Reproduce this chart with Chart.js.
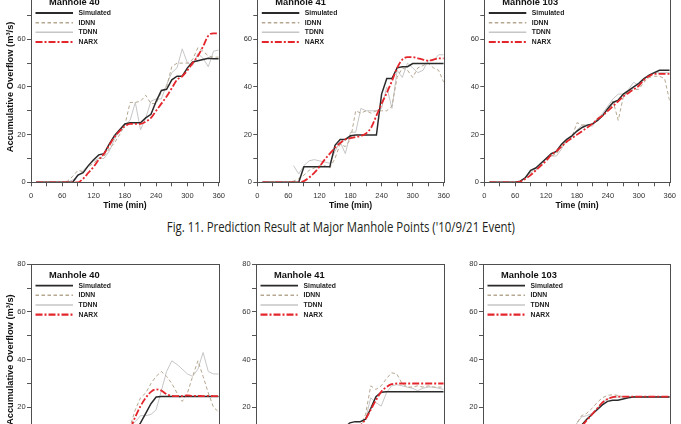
<!DOCTYPE html>
<html><head><meta charset="utf-8">
<script src="https://cdn.jsdelivr.net/npm/chart.js@4/dist/chart.umd.min.js"></script>
<style>
html,body{margin:0;padding:0;background:#fff;overflow:hidden;width:681px;height:424px;position:relative}
canvas{position:absolute}
#cap{position:absolute;left:0;top:220px;width:681px;text-align:center;font-family:"Liberation Sans Narrow","Arial Narrow","Open Sans",sans-serif;font-size:14px;line-height:14px;color:#231f20;white-space:nowrap}
#cap span{display:inline-block;transform-origin:50% 50%}
</style></head><body>
<canvas id="p1"></canvas><canvas id="p2"></canvas><canvas id="p3"></canvas>
<canvas id="p4"></canvas><canvas id="p5"></canvas><canvas id="p6"></canvas>
<div id="cap"><span>Fig. 11. Prediction Result at Major Manhole Points ('10/9/21 Event)</span></div>
<script>
// ---------- DATA ----------
const times = [10,20,30,40,50,60,70,80,90,100,110,120,130,140,150,160,170,180,190,200,210,220,230,240,250,260,270,280,290,300,310,320,330,340,350,360];
const xTickLabels = [0,60,120,180,240,300,360];
const yTickLabels = [0,20,40,60,80];
const seriesNames = ['Simulated','IDNN','TDNN','NARX'];
const panelTitles = ['Manhole 40','Manhole 41','Manhole 103'];

// Event 1 ('10/9/21) - top row
const e1M40Sim  = [0,0,0,0,0,0,0,0,3,4,7,9.5,11.5,12,16,19.5,22,24.5,25,25,25,27,28.5,34,38.5,39,43,44.5,44.5,48,50.5,51,51.5,52,51.8,51.8];
const e1M40Idnn = [0,0,0,0,0,0,0.5,2.5,5,4.5,6.5,8,10,11,14,16.5,20,24,33.5,33.5,34,36.5,33,33,38,40,48.5,50,50,50,51.5,56.5,55,53,52.5,52.5];
const e1M40Tdnn = [0,0,0,0,0,0,0,1,2.5,5,7,9,10,10,13,18,22,24,26,33.5,22,27,34,35,35,41,46,48,56,50,49,54,52,48.5,55,55.5];
const e1M40Narx = [0,0,0,0,0,0,0,0,0,1.5,4,6.5,9.5,12,15.5,19,21.5,23.5,24.5,24.5,24.5,25.5,27,30,33,36,39.5,43,44.5,47,50,53,57,61.5,62.5,62.5];

const e1M41Sim  = [0,0,0,0,0,0,0,0,6.5,6.5,6.5,6.5,6.5,6.5,15.5,18,18,19.5,19.8,19.8,19.8,19.8,19.8,37,43.5,43.5,48,48.5,48.5,49.8,49.8,49.8,49.8,49.8,49.8,49.8];
const e1M41Idnn = [0,0,0,0,0,0,0.5,1.5,3,5,6,7,7,6,10,16,15,18,30,29,30,29,30,30,30,32,44,48,47,44,48,49,50,48,47,42];
const e1M41Tdnn = [null,null,null,null,null,null,7,3.5,7,9,9.5,9,8.5,8,13,17,12,21,21,31,30,30,30,31,40,31,47,44,50,48,46,47,51,51,53.5,53.5];
const e1M41Narx = [0,0,0,0,0,0,0,0,0.5,2,4,6.5,9.5,12,14.5,16.5,18,18.5,19,19.5,20.5,23,28,33,37.5,42.5,48,51.5,52.5,52.5,52,51.5,51,51.5,52,52];

const e1M103Sim  = [0,0,0,0,0,0,0.5,2,5,6,8,10,12,13,16,18,19.5,21.5,23,24,24.5,26,28,31,33.5,34.5,37,38.5,40,41.5,43.5,45,46,47,47,47];
const e1M103Idnn = [0,0,0,0,0,0,0.5,2,4,5,7,10,11,12,15,17,19,25,24,24,24,27,28,31,34,26,36,38,39,39,42,44,44.5,44.5,43.5,34];
const e1M103Tdnn = [0,0,0,0,0,0,0,2,4,6,8,10,11,11,14,18,19,22,24,24,23.5,27,29,32,35,37,37,39,42,40.5,43,45,46,46,46,46];
const e1M103Narx = [0,0,0,0,0,0,0.3,1.5,3,5,7,9,11.5,13,15,17,18.5,20,21.5,23,24.5,26.5,28,30,32,34,36,37.5,39,40.5,43,44.5,45.5,45.5,45.5,45.5];

// Event 2 - bottom row
const e2M40Sim  = [0,0,0,0,0,0,0,0,0,0,0,0,0.5,1.5,2.5,4,5.5,7,8.5,10,13.5,17.5,21.5,24.3,24.5,24.5,24.5,24.5,24.5,24.5,24.5,24.5,24.5,24.5,24.5,24.5];
const e2M40Idnn = [0,0,0,0,0,0,0,0,0,0,0,0,1,2,3.5,5,7,9,12,19,24,26,30,33,35,33,30,26,22.5,26,33,39.5,33,26,20,18];
const e2M40Tdnn = [0,0,0,0,0,0,0,0,0,0,0,0,0.5,1.5,3,5,7,9.5,12,14,16.5,16.5,17,19,27,35,39.5,38,36,34,33,36,43,35,34,34];
const e2M40Narx = [0,0,0,0,0,0,0,0,0,0,0,0,0.5,1.5,3,4.5,6.5,8.5,11,16,20.5,24,26.5,27.5,27,25.5,24.8,24.7,24.7,25,24.8,24.8,24.7,24.8,24.7,24.7];

const e2M41Sim  = [0,0,0,0,0,0,0,0,0,0,0,1,3,5,7,9,11.5,13.5,14,14,15,19.5,24.5,26.3,26.5,26.5,26.5,26.5,26.5,26.5,26.5,26.5,26.5,26.5,26.5,26.5];
const e2M41Idnn = [0,0,0,0,0,0,0,0,0,0,0,1,2.5,4,6,8,10,11.5,12,12,17,29,27.5,29,32,34.5,34,30,28.5,28.5,29,28.5,29,28.5,28.5,28.5];
const e2M41Tdnn = [0,0,0,0,0,0,0,0,0,0,0,1,2.5,4.5,6.5,8.5,10.5,12,12.5,12.5,15,24,22,20.5,26,29,29.5,29,28.5,28,27,28,28.5,28.5,28,27.5];
const e2M41Narx = [0,0,0,0,0,0,0,0,0,0,0,0.5,1.5,3,4.5,6.5,8.5,10.5,12,12.5,15,19,23,26.5,28.5,29.7,30,30,30,30,30,30,30,30,30,30];

const e2M103Sim  = [0,0,0,0,0,0,0,0,0,0,0,1,2.5,4,5.5,7,9,11,12.5,15,17,19,21,22.5,23,23,23.5,24,24.3,24.3,24.3,24.3,24.3,24.3,24.3,24.3];
const e2M103Idnn = [0,0,0,0,0,0,0,0,0,0,0,1.5,3,5,7,9,11,13,16.5,17.5,19.5,22,24,25,25.3,25,24.5,24.5,24.5,24.5,24.5,24.5,24.5,24.5,24.5,24.5];
const e2M103Tdnn = [0,0,0,0,0,0,0,0,0,0,0,1,2.5,4.5,6.5,8.5,10.5,13,16,16.5,17.5,19.5,22,23.5,24.2,24.3,24.3,24.3,24.3,24.3,24.3,24.3,24.3,24.3,24.3,24.3];
const e2M103Narx = [0,0,0,0,0,0,0,0,0,0,0,0.5,1.5,3,4.5,6,8,10,12,14.5,17,19.5,22,23.5,24.3,24.5,24.5,24.5,24.5,24.5,24.5,24.5,24.5,24.5,24.5,24.5];

// ---------- STYLE / LAYOUT ----------
const FONT = 'Arial, "Liberation Sans", Helvetica, sans-serif';
Chart.defaults.font.family = FONT;
const styles = [
  {borderColor:'#2a2a2a', borderWidth:1.5, order:2},
  {borderColor:'#b5a790', borderWidth:1, borderDash:[3.5,2.5], order:3},
  {borderColor:'#c6c6c6', borderWidth:1, order:4},
  {borderColor:'#e4262c', borderWidth:1.8, borderDash:[7,2,2,2], cubicInterpolationMode:'monotone', order:1}
];

const boxPlugin = {
  id:'box',
  afterDraw(chart){
    const {ctx, chartArea:a} = chart;
    ctx.save();
    ctx.strokeStyle = '#4e4e4e'; ctx.lineWidth = 1;
    const l = Math.round(a.left)+0.5, t = Math.round(a.top)+0.5;
    ctx.strokeRect(l, t, Math.round(a.right)-Math.round(a.left), Math.round(a.bottom)-Math.round(a.top));
    ctx.restore();
  }
};
const legendPlugin = {
  id:'boxLegend',
  afterDatasetsDraw(chart, args, opts){
    const {ctx, chartArea:a} = chart;
    ctx.save();
    ctx.textBaseline = 'middle';
    ctx.fillStyle = '#111';
    ctx.font = 'bold 9.3px ' + FONT;
    ctx.fillText(opts.title, a.left + 18, a.top + 11);
    ctx.font = 'bold 6.8px ' + FONT;
    chart.data.datasets.forEach((d, i) => {
      const y = a.top + 21.4 + i * 9.65;
      ctx.beginPath();
      ctx.strokeStyle = d.borderColor;
      ctx.lineWidth = Math.max(d.borderWidth, 1.2) + 0.3;
      ctx.setLineDash(d.borderDash || []);
      ctx.moveTo(a.left + 4.5, y); ctx.lineTo(a.left + 42, y);
      ctx.stroke();
      ctx.setLineDash([]);
      ctx.fillStyle = '#222';
      ctx.fillText(d.label, a.left + 47.5, y);
    });
    ctx.restore();
  }
};

function makePanel(id, pos, title, series, showYTitle){
  const cv = document.getElementById(id);
  cv.width = pos.w; cv.height = pos.h;
  cv.style.left = pos.left + 'px'; cv.style.top = pos.top + 'px';
  cv.style.width = pos.w + 'px'; cv.style.height = pos.h + 'px';
  const datasets = series.map((vals, i) => Object.assign({
    label: seriesNames[i],
    data: vals.map((v, k) => ({x: times[k], y: v})),
    pointRadius: 0, fill: false, tension: 0
  }, styles[i]));
  const gridOpt = {drawOnChartArea:false, drawTicks:true, tickLength:4, color:'#555', lineWidth:1};
  new Chart(cv, {
    type:'line',
    data:{datasets},
    options:{
      responsive:false, animation:false, devicePixelRatio:1,
      layout:{padding:{top:pos.padTop, right:pos.padRight, left:0, bottom:0}},
      plugins:{legend:{display:false}, tooltip:{enabled:false}, boxLegend:{title}},
      scales:{
        x:{type:'linear', min:0, max:360,
          ticks:{stepSize:30, autoSkip:false, maxRotation:0, padding:5, color:'#333', font:{size:7.5},
            callback:v => xTickLabels.includes(v) ? String(v) : ''},
          grid:gridOpt, border:{color:'#4e4e4e'},
          title:{display:true, text:'Time (min)', color:'#111', font:{size:8.6, weight:'bold'}, padding:0},
          afterFit:s => { s.height = pos.xH; }
        },
        y:{type:'linear', min:0, max:80,
          ticks:{stepSize:10, autoSkip:false, padding:1.3, color:'#333', font:{size:7.5},
            callback:v => yTickLabels.includes(v) ? String(v) : ''},
          grid:gridOpt, border:{color:'#4e4e4e'},
          title:{display:showYTitle, text:'Accumulative Overflow (m³/s)', color:'#111', font:{size:9.3, weight:'bold'}, padding:{top:4.4, bottom:0}},
          afterFit:s => { s.width = pos.yW; }
        }
      }
    },
    plugins:[boxPlugin, legendPlugin]
  });
}

const topRow = {top:-20, h:231, padTop:11.6, xH:231 - 11.6 - 190.7};
const botRow = {top:250, h:234, padTop:14.3, xH:234 - 14.3 - 190.7};
makePanel('p1', Object.assign({left:0,   w:230, yW:31,   padRight:10},  topRow), panelTitles[0], [e1M40Sim, e1M40Idnn, e1M40Tdnn, e1M40Narx], true);
makePanel('p2', Object.assign({left:230, w:225, yW:27.3, padRight:7.7}, topRow), panelTitles[1], [e1M41Sim, e1M41Idnn, e1M41Tdnn, e1M41Narx], false);
makePanel('p3', Object.assign({left:455, w:226, yW:29.3, padRight:7.7}, topRow), panelTitles[2], [e1M103Sim, e1M103Idnn, e1M103Tdnn, e1M103Narx], false);
makePanel('p4', Object.assign({left:0,   w:230, yW:31,   padRight:10},  botRow), panelTitles[0], [e2M40Sim, e2M40Idnn, e2M40Tdnn, e2M40Narx], true);
makePanel('p5', Object.assign({left:230, w:225, yW:26,   padRight:8},   botRow), panelTitles[1], [e2M41Sim, e2M41Idnn, e2M41Tdnn, e2M41Narx], false);
makePanel('p6', Object.assign({left:455, w:226, yW:28,   padRight:8},   botRow), panelTitles[2], [e2M103Sim, e2M103Idnn, e2M103Tdnn, e2M103Narx], false);

// fit caption width to reference span (~348px)
const sp = document.querySelector('#cap span');
const k = 348 / sp.getBoundingClientRect().width;
if (k > 0.7 && k < 1.4) sp.style.transform = 'scaleX(' + k.toFixed(3) + ')';
</script>
</body></html>
